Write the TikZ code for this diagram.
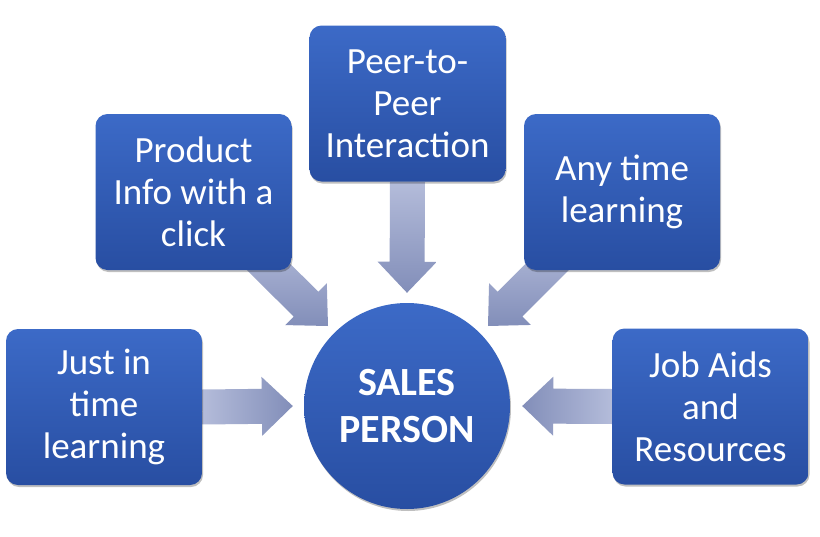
\documentclass[tikz,border=0pt]{standalone}
\usepackage{fontspec}
\setmainfont{Carlito}
\usetikzlibrary{calc,shadows,backgrounds}

\definecolor{boxtop}{RGB}{60,106,199}
\definecolor{boxbot}{RGB}{40,78,162}
\definecolor{flowlight}{RGB}{180,188,218}
\definecolor{flowdark}{RGB}{130,142,185}

% block arrow: #2 = start, #3 = tip
\newcommand{\blockarrow}[3][]{%
	\coordinate (hb) at ($(#3)!31pt!(#2)$);
	\shade[#1] ($(#2)!17.5pt!90:(#3)$) -- ($(hb)!17.5pt!90:(#3)$) -- ($(hb)!29.5pt!90:(#3)$) -- (#3)
		-- ($(hb)!29.5pt!-90:(#3)$) -- ($(hb)!17.5pt!-90:(#3)$) -- ($(#2)!17.5pt!-90:(#3)$) -- cycle;}

\begin{document}
\begin{tikzpicture}[x=1pt, y=-1pt,
			box/.style={rounded corners=12pt, minimum width=196pt, minimum height=156pt, inner sep=0pt, align=center,
				top color=boxtop, bottom color=boxbot, text=white, font=\fontsize{37}{42}\selectfont,
				drop shadow={shadow xshift=1pt, shadow yshift=-2pt, opacity=0.25, fill=black}},
			hub/.style={circle, minimum size=206pt, inner sep=0pt, align=center,
				top color=boxtop, bottom color=boxbot, text=white, font=\bfseries\fontsize{40}{47}\selectfont,
				drop shadow={shadow xshift=1pt, shadow yshift=-2pt, opacity=0.25, fill=black}}]
	\useasboundingbox (0,0) rectangle (820,536);
	\node[hub] (sales) at (407,406) {SALES\\PERSON};
	\node[box] (just) at (104,407) {Just in\\time\\learning};
	\node[box] (prod) at (193.5,192) {Product\\Info with a\\click};
	\node[box] (peer) at (407.5,103.5) {Peer-to-\\Peer\\Interaction};
	\node[box] (any) at (622,192) {Any time\\learning};
	\node[box] (job) at (710.5,406.5) {Job Aids\\and\\Resources};
	% arrow ends
	\coordinate (tipW) at ($(sales.west)+(-11,0)$);
	\coordinate (tipE) at ($(sales.east)+(12,0)$);
	\coordinate (tipN) at ($(sales.north)+(0,-10)$);
	\coordinate (tipNW) at ($(sales.center)+(-79,-80)$);
	\coordinate (tipNE) at ($(sales.center)+(81,-80)$);
	\coordinate (fromNW) at ($(prod.south east)+(-42,-22)$);
	\coordinate (fromNE) at ($(any.south west)+(42,-22)$);
	\begin{scope}[on background layer]
		\fill[white] (0,0) rectangle (820,536);
		\blockarrow[left color=flowlight, right color=flowdark]{just.east}{tipW}
		\blockarrow[left color=flowdark, right color=flowlight]{job.west}{tipE}
		\blockarrow[top color=flowlight, bottom color=flowdark]{peer.south}{tipN}
		\blockarrow[top color=flowlight, bottom color=flowdark]{fromNW}{tipNW}
		\blockarrow[top color=flowlight, bottom color=flowdark]{fromNE}{tipNE}
	\end{scope}
\end{tikzpicture}
\end{document}
